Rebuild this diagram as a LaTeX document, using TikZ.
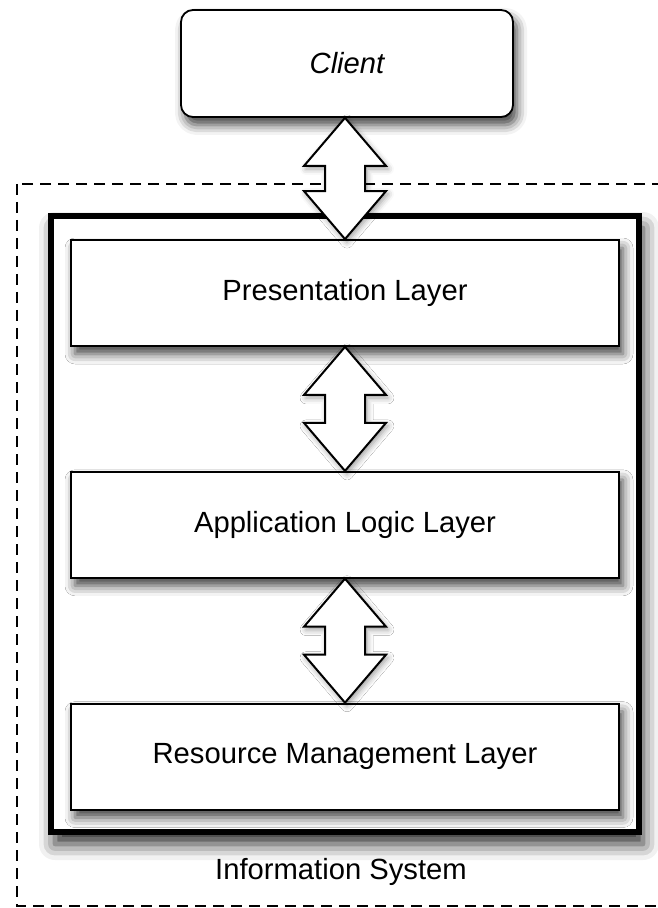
\documentclass[tikz,border=0pt]{standalone}
\usepackage{fontspec}
\setsansfont{Liberation Sans}
\usetikzlibrary{positioning,calc,shadows.blur}

\tikzset{
  layer/.style={draw, line width=.9pt, fill=white, minimum width=274pt, minimum height=53pt,
    font=\sffamily\fontsize{14.6}{17}\selectfont,
    blur shadow={shadow xshift=2pt, shadow yshift=-4pt, shadow blur radius=5pt, shadow opacity=75}},
  clientbox/.style={layer, rounded corners=6pt, minimum width=166pt, minimum height=53.5pt,
    font=\sffamily\itshape\fontsize{14.6}{17}\selectfont},
  layer arrow/.style={draw, line width=1pt, fill=white, line join=miter,
    blur shadow={shadow xshift=1pt, shadow yshift=-1.5pt, shadow blur radius=3pt, shadow opacity=40}}
}

% double block arrow from the bottom of #1 to the top of #2
\newcommand{\layerarrow}[2]{%
  \path (#1.south -| #2.north) coordinate (ta) (#2.north) coordinate (tb);
  \draw[layer arrow] (ta) -- ($(ta)+(41,48)$) -- ($(ta)+(20,48)$) -- ($(tb)+(20,-48)$)
    -- ($(tb)+(41,-48)$) -- (tb) -- ($(tb)+(-41,-48)$) -- ($(tb)+(-20,-48)$)
    -- ($(ta)+(-20,48)$) -- ($(ta)+(-41,48)$) -- cycle;
}

\begin{document}
\begin{tikzpicture}[x=.5pt, y=-.5pt, node distance=62pt]
    \useasboundingbox (0,0) rectangle (657,908);

    % information system
    \draw [line width=1.3pt, dash pattern=on 5.5pt off 3.5pt] (17,184) rectangle (662,906);
    \draw [line width=3.4pt, fill=white,
      blur shadow={shadow xshift=2pt, shadow yshift=-6pt, shadow blur radius=8pt, shadow opacity=85}]
      (51,216) rectangle (639,832);
    \node (infosys) at (341,872) {\sffamily\fontsize{14.6}{17}\selectfont Information System};

    % layers
    \node [layer] (pres) at (345,293) {Presentation Layer};
    \node [layer, below=of pres] (app) {Application Logic Layer};
    \node [layer, below=of app] (res) {Resource Management Layer};

    \node [clientbox] (client) at (347,63.5) {Client};

    \layerarrow{client}{pres}
    \layerarrow{pres}{app}
    \layerarrow{app}{res}
\end{tikzpicture}
\end{document}
